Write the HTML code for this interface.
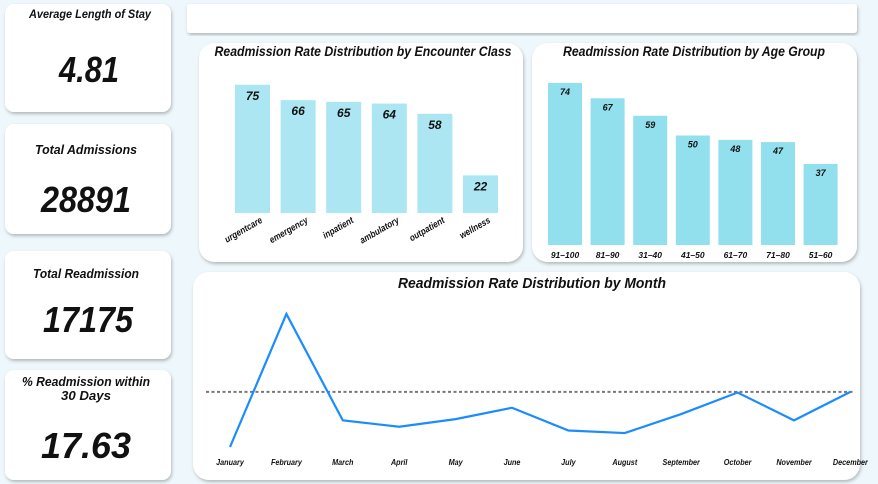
<!DOCTYPE html>
<html><head><meta charset="utf-8"><style>
body{margin:0;width:878px;height:484px;background:#eef7fb;font-family:"Liberation Sans",sans-serif;overflow:hidden}
svg{position:absolute;left:0;top:0}
text{font-family:"Liberation Sans",sans-serif;font-style:italic;font-weight:bold;fill:#111}
</style></head><body>
<svg id="s" width="878" height="484">
<defs><filter id="sh" x="-5%" y="-5%" width="110%" height="115%"><feDropShadow dx="1" dy="2" stdDeviation="1.5" flood-color="#000" flood-opacity="0.25"/></filter></defs>
<g><rect x="5" y="4" width="166" height="108" rx="9" fill="#fff" filter="url(#sh)"/>
<text x="90" y="18" text-anchor="middle" font-size="12" textLength="122" lengthAdjust="spacingAndGlyphs">Average Length of Stay</text>
<text x="89" y="82" text-anchor="middle" font-size="36" textLength="60" lengthAdjust="spacingAndGlyphs">4.81</text></g>
<g><rect x="5" y="124" width="166" height="110" rx="9" fill="#fff" filter="url(#sh)"/>
<text x="86" y="154" text-anchor="middle" font-size="13" textLength="102" lengthAdjust="spacingAndGlyphs">Total Admissions</text>
<text x="86" y="212" text-anchor="middle" font-size="36" textLength="90" lengthAdjust="spacingAndGlyphs">28891</text></g>
<g><rect x="5" y="251" width="166" height="108" rx="9" fill="#fff" filter="url(#sh)"/>
<text x="86" y="278" text-anchor="middle" font-size="13" textLength="106" lengthAdjust="spacingAndGlyphs">Total Readmission</text>
<text x="88" y="332" text-anchor="middle" font-size="36" textLength="90" lengthAdjust="spacingAndGlyphs">17175</text></g>
<g><rect x="5" y="370" width="166" height="110" rx="9" fill="#fff" filter="url(#sh)"/>
<text x="86" y="386" text-anchor="middle" font-size="13" textLength="128" lengthAdjust="spacingAndGlyphs">% Readmission within</text>
<text x="86" y="400" text-anchor="middle" font-size="13" textLength="50" lengthAdjust="spacingAndGlyphs">30 Days</text>
<text x="86" y="458" text-anchor="middle" font-size="36" textLength="90" lengthAdjust="spacingAndGlyphs">17.63</text></g>
<rect x="187" y="4" width="670" height="29" rx="3" fill="#fff" filter="url(#sh)"/>
<rect x="199" y="43" width="324" height="219" rx="16" fill="#fff" filter="url(#sh)"/>
<text x="363" y="56" text-anchor="middle" font-size="13.5" textLength="297" lengthAdjust="spacingAndGlyphs">Readmission Rate Distribution by Encounter Class</text>
<rect x="532" y="43" width="325" height="219" rx="16" fill="#fff" filter="url(#sh)"/>
<text x="694" y="56" text-anchor="middle" font-size="13.5" textLength="262" lengthAdjust="spacingAndGlyphs">Readmission Rate Distribution by Age Group</text>
<rect x="193" y="272" width="667" height="208" rx="16" fill="#fff" filter="url(#sh)"/>
<text x="532" y="288" text-anchor="middle" font-size="14.5" textLength="268" lengthAdjust="spacingAndGlyphs">Readmission Rate Distribution by Month</text>
<g id="enc"></g><g id="age"></g><g id="mon"></g>
</svg>
<script>
const encCats=["urgentcare","emergency","inpatient","ambulatory","outpatient","wellness"];
const encVals=[75,66,65,64,58,22];
const ageCats=["91-100","81-90","31-40","41-50","61-70","71-80","51-60"];
const ageVals=[74,67,59,50,48,47,37];
const months=["January","February","March","April","May","June","July","August","September","October","November","December"];
const monthVals=[14.5,25.0,16.6,16.1,16.7,17.6,15.8,15.6,17.1,18.8,16.6,18.85];
const refVal=18.85;
const NS="http://www.w3.org/2000/svg";
function mk(t,a,p){const e=document.createElementNS(NS,t);for(const k in a)e.setAttribute(k,a[k]);p.appendChild(e);return e;}
function fit(t,f){const w=t.getComputedTextLength();t.setAttribute('textLength',w*f);t.setAttribute('lengthAdjust','spacingAndGlyphs');}
// encounter
const eg=document.getElementById('enc');
const eX=i=>235+i*45.6, eY=v=>213-v*1.71;
encVals.forEach((v,i)=>{
 const r=mk('rect',{x:eX(i),y:eY(v),width:35,height:213-eY(v),fill:'#ace6f2'},eg);
 
 
 const t=mk('text',{x:eX(i)+17.5,y:eY(v)+15,'text-anchor':'middle','font-size':12},eg);t.textContent=v;
 
 
 const l=mk('text',{x:eX(i)+28,y:222,'text-anchor':'end','font-size':9.5,transform:`rotate(-30 ${eX(i)+28} 222)`},eg);l.textContent=encCats[i];
 
 
 fit(l,0.85);
});
// age
const ag=document.getElementById('age');
const aX=i=>548+i*42.6, aY=v=>245-v*2.19;
ageVals.forEach((v,i)=>{
 const r=mk('rect',{x:aX(i),y:aY(v),width:34,height:245-aY(v),fill:'#92e0ee'},ag);
 
 
 const t=mk('text',{x:aX(i)+17,y:aY(v)+12,'text-anchor':'middle','font-size':9},ag);t.textContent=v;
 
 
 const l=mk('text',{x:aX(i)+17,y:258,'text-anchor':'middle','font-size':8.5},ag);l.textContent=ageCats[i].replace('-','–');
 
 
});
// month
const mg=document.getElementById('mon');
const mX=i=>230+i*56.4, mY=v=>447-(v-14.5)*12.67;
const ref=mk('line',{x1:206,x2:855,y1:mY(refVal),y2:mY(refVal),stroke:'#777','stroke-width':2,'stroke-dasharray':'3,2.5'},mg);


const ln=mk('polyline',{points:monthVals.map((v,i)=>mX(i)+','+mY(v)).join(' '),fill:'none',stroke:'#1a8cff','stroke-width':2.2,'stroke-linejoin':'miter'},mg);


months.forEach((m,i)=>{
 const l=mk('text',{x:mX(i),y:465,'text-anchor':'middle','font-size':8.5},mg);l.textContent=m;
 
 
 fit(l,0.85);
});
</script>
</body></html>
